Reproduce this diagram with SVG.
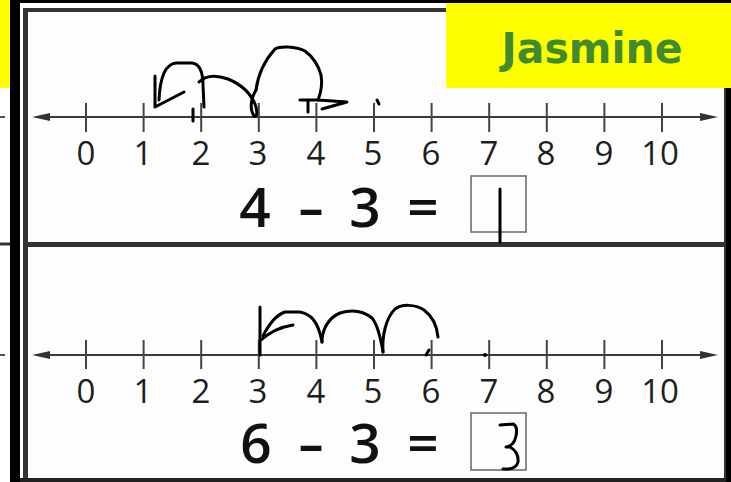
<svg xmlns="http://www.w3.org/2000/svg" width="731" height="482" viewBox="0 0 731 482">
<style>
.num{font-family:"Open Sans","Liberation Sans",sans-serif;font-size:33px;font-weight:500;fill:#1e1e1e;text-anchor:middle}
.eq{font-family:"Open Sans","Liberation Sans",sans-serif;font-size:55px;font-weight:600;fill:#111;text-anchor:middle}
.tick{stroke:#444;stroke-width:2}
.axis{stroke:#3a3a3a;stroke-width:2}
.ink{fill:none;stroke:#000;stroke-width:3;stroke-linecap:round;stroke-linejoin:round}
.border{fill:#333}
</style>
<defs>
<g id="ticks">
<line class="tick" x1="86" y1="0" x2="86" y2="29"/>
<line class="tick" x1="143.6" y1="0" x2="143.6" y2="29"/>
<line class="tick" x1="201.2" y1="0" x2="201.2" y2="29"/>
<line class="tick" x1="258.8" y1="0" x2="258.8" y2="29"/>
<line class="tick" x1="316.4" y1="0" x2="316.4" y2="29"/>
<line class="tick" x1="374" y1="0" x2="374" y2="29"/>
<line class="tick" x1="431.6" y1="0" x2="431.6" y2="29"/>
<line class="tick" x1="489.2" y1="0" x2="489.2" y2="29"/>
<line class="tick" x1="546.8" y1="0" x2="546.8" y2="29"/>
<line class="tick" x1="604.4" y1="0" x2="604.4" y2="29"/>
<line class="tick" x1="662" y1="0" x2="662" y2="29"/>
</g>
<g id="labels">
<text class="num" x="86" y="0">0</text>
<text class="num" x="143" y="0">1</text>
<text class="num" x="201" y="0">2</text>
<text class="num" x="258" y="0">3</text>
<text class="num" x="316" y="0">4</text>
<text class="num" x="373" y="0">5</text>
<text class="num" x="431" y="0">6</text>
<text class="num" x="489" y="0">7</text>
<text class="num" x="546" y="0">8</text>
<text class="num" x="604" y="0">9</text>
<text class="num" x="660" y="0">10</text>
</g>
<g id="axis">
<line class="axis" x1="45" y1="0" x2="705" y2="0"/>
<polygon points="32,0 50,-4 50,4" fill="#333"/>
<polygon points="718,0 700,-4 700,4" fill="#333"/>
</g>
</defs>

<!-- background / frame -->
<rect x="0" y="0" width="731" height="482" fill="#000"/>
<rect x="0" y="88" width="10" height="394" fill="#fff"/>
<rect x="0" y="0" width="10" height="88" fill="#ffff00"/>
<rect x="20" y="3" width="706" height="476" fill="#fff"/>
<rect x="29" y="12" width="696" height="466" fill="#fdfdfd"/>
<rect class="border" x="23" y="8" width="5" height="474"/>
<rect class="border" x="23" y="8" width="424" height="4"/>
<rect class="border" x="724" y="88" width="4" height="394"/>
<rect class="border" x="23" y="242" width="705" height="5"/>
<rect x="20" y="478" width="711" height="4" fill="#222"/>
<rect x="726" y="88" width="5" height="394" fill="#000"/>
<line x1="0" y1="117" x2="5" y2="117" stroke="#555" stroke-width="2"/>
<line x1="0" y1="355" x2="5" y2="355" stroke="#555" stroke-width="2"/>
<line x1="0" y1="244" x2="10" y2="244" stroke="#333" stroke-width="3"/>

<!-- name tag -->
<g id="name">
<rect x="446" y="3" width="285" height="85" fill="#ffff00"/>
<text x="592" y="63" font-family="'DejaVu Sans','Liberation Sans',sans-serif" font-weight="bold" font-size="42" fill="#3f8b2e" text-anchor="middle" textLength="181" lengthAdjust="spacingAndGlyphs">Jasmine</text>
</g>

<!-- problem 1 -->
<g id="problem1">
<use href="#axis" transform="translate(0,117)"/>
<use href="#ticks" transform="translate(0,103)"/>
<use href="#labels" transform="translate(0,165)"/>
<text class="eq" x="255" y="227">4</text>
<text class="eq" transform="translate(311,227) scale(1.5,1)">-</text>
<text class="eq" x="365" y="227">3</text>
<text class="eq" x="423" y="227">=</text>
<rect x="471" y="176" width="55" height="56" fill="none" stroke="#666" stroke-width="1.5"/>
<g id="ink1">
<path class="ink" d="M155,76 L155,107 L184,92"/>
<path class="ink" d="M159,100 C160,78 165,64 176,63 L192,63 C200,64 203,72 203,85 L204,107"/>
<path class="ink" d="M193,109 L193,121"/>
<path class="ink" d="M199,82 C205,76 214,74 228,79 C240,84 250,92 255,104 C258,112 257,118 254,116 C250,110 250,100 256,90"/>
<path class="ink" d="M256,90 C258,75 265,60 275,49 C280,46 295,46 305,51 C313,57 318,64 321,75 C323,86 320,95 318,100"/>
<path class="ink" d="M300,100 L318,100 M308,100 L308,112 M318,100 L347,102 L322,109"/>
<path class="ink" d="M377,100 L379,104" stroke-width="2.5"/>
<path class="ink" d="M500,189 L500,242"/>
</g>
</g>

<!-- problem 2 -->
<g id="problem2">
<use href="#axis" transform="translate(0,355)"/>
<use href="#ticks" transform="translate(0,340)"/>
<use href="#labels" transform="translate(0,403)"/>
<text class="eq" x="256" y="463">6</text>
<text class="eq" transform="translate(311,463) scale(1.5,1)">-</text>
<text class="eq" x="365" y="463">3</text>
<text class="eq" x="423" y="463">=</text>
<rect x="471" y="413" width="55" height="57" fill="none" stroke="#666" stroke-width="1.5"/>
<g id="ink2">
<path class="ink" d="M260,307 L260,355"/>
<path class="ink" d="M261,340 C270,332 280,327 293,325"/>
<path class="ink" d="M263,336 C268,326 276,315 285,312 L300,312 C310,314 318,320 322,342"/>
<path class="ink" d="M322,342 C322,330 328,318 340,313 C350,310 362,310 372,318 C378,325 381,340 383,352"/>
<path class="ink" d="M383,352 C382,335 386,318 395,309 C402,304 415,304 424,310 C432,316 437,326 438,337"/>
<path class="ink" d="M426,355 L429,350" stroke-width="2.5"/>
<circle cx="485" cy="355" r="2" fill="#000"/>
<path class="ink" d="M500,425 L513,424 Q518,426 516,436 Q514,446 506,447 L510,447 Q519,452 518,462 Q516,470 503,469" stroke-width="2.5"/>
</g>
</g>
</svg>
